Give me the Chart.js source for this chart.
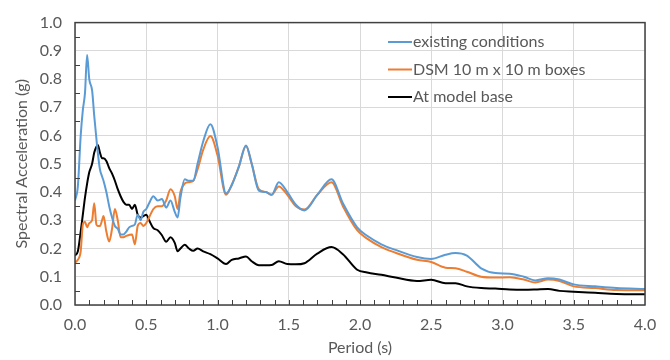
<!DOCTYPE html>
<html>
<head>
<meta charset="utf-8">
<script src="https://cdn.jsdelivr.net/npm/chart.js@4.4.1/dist/chart.umd.min.js"></script>
<style>
  html, body { margin: 0; padding: 0; background: #ffffff; }
  #wrap { width: 670px; height: 360px; position: relative; }
</style>
</head>
<body>
<div id="wrap"><canvas id="c" width="670" height="360"></canvas></div>
<script>
// ---- Data ----
const periods = [0, 0.02, 0.04, 0.055, 0.07, 0.085, 0.1, 0.12, 0.135, 0.15, 0.16, 0.175, 0.19, 0.2, 0.22, 0.24, 0.26, 0.28, 0.3, 0.32, 0.34, 0.36, 0.38, 0.4, 0.42, 0.44, 0.46, 0.48, 0.5, 0.52, 0.55, 0.58, 0.61, 0.64, 0.67, 0.7, 0.72, 0.74, 0.77, 0.8, 0.83, 0.86, 0.9, 0.95, 1.0, 1.06, 1.1, 1.15, 1.2, 1.24, 1.29, 1.34, 1.38, 1.43, 1.49, 1.55, 1.61, 1.7, 1.8, 1.88, 1.98, 2.05, 2.15, 2.25, 2.4, 2.5, 2.6, 2.67, 2.75, 2.85, 2.95, 3.05, 3.15, 3.23, 3.32, 3.4, 3.5, 3.65, 3.8, 4.0];

const existingConditions = [0.37, 0.42, 0.60, 0.69, 0.75, 0.885, 0.80, 0.76, 0.67, 0.59, 0.54, 0.48, 0.455, 0.44, 0.40, 0.35, 0.31, 0.28, 0.27, 0.25, 0.25, 0.26, 0.275, 0.28, 0.285, 0.32, 0.30, 0.33, 0.34, 0.36, 0.385, 0.37, 0.375, 0.345, 0.37, 0.33, 0.31, 0.38, 0.445, 0.44, 0.44, 0.50, 0.58, 0.64, 0.56, 0.395, 0.425, 0.49, 0.565, 0.50, 0.405, 0.40, 0.39, 0.435, 0.40, 0.355, 0.335, 0.39, 0.445, 0.36, 0.275, 0.245, 0.215, 0.195, 0.17, 0.163, 0.178, 0.184, 0.175, 0.13, 0.113, 0.111, 0.10, 0.087, 0.095, 0.09, 0.073, 0.066, 0.06, 0.057];

const dsmBoxes = [0.15, 0.16, 0.19, 0.285, 0.295, 0.275, 0.29, 0.30, 0.36, 0.285, 0.28, 0.28, 0.30, 0.315, 0.26, 0.225, 0.27, 0.34, 0.30, 0.24, 0.24, 0.245, 0.248, 0.25, 0.215, 0.28, 0.29, 0.28, 0.29, 0.31, 0.34, 0.35, 0.35, 0.37, 0.41, 0.385, 0.34, 0.40, 0.43, 0.435, 0.44, 0.48, 0.55, 0.598, 0.53, 0.39, 0.425, 0.49, 0.563, 0.50, 0.41, 0.40, 0.39, 0.42, 0.39, 0.35, 0.338, 0.39, 0.435, 0.35, 0.265, 0.235, 0.205, 0.185, 0.16, 0.152, 0.132, 0.13, 0.118, 0.10, 0.097, 0.098, 0.09, 0.08, 0.09, 0.085, 0.066, 0.06, 0.053, 0.052];

const modelBase = [0.175, 0.19, 0.26, 0.32, 0.38, 0.43, 0.47, 0.50, 0.54, 0.56, 0.567, 0.54, 0.52, 0.52, 0.51, 0.485, 0.465, 0.44, 0.41, 0.385, 0.365, 0.355, 0.355, 0.34, 0.355, 0.32, 0.31, 0.315, 0.32, 0.30, 0.272, 0.265, 0.247, 0.224, 0.24, 0.22, 0.19, 0.20, 0.213, 0.20, 0.192, 0.20, 0.19, 0.18, 0.165, 0.145, 0.16, 0.165, 0.172, 0.155, 0.141, 0.141, 0.142, 0.155, 0.145, 0.144, 0.148, 0.182, 0.205, 0.18, 0.125, 0.115, 0.107, 0.097, 0.085, 0.089, 0.077, 0.077, 0.066, 0.06, 0.058, 0.055, 0.054, 0.055, 0.057, 0.05, 0.047, 0.043, 0.039, 0.038];

const seriesNames = ["existing conditions", "DSM 10 m x 10 m boxes", "At model base"];
const xTitle = "Period (s)";
const yTitle = "Spectral Acceleration (g)";

// ---- Styles ----
const FONT = "Lato, 'Liberation Sans', sans-serif";
const TEXT = "#595959";
const colors = ["#5B9BD5", "#ED7D31", "#000000"];

function toPoints(vals) { return periods.map((p, i) => ({ x: p, y: vals[i] })); }

const frameAndTicks = {
  id: 'frameAndTicks',
  afterDatasetsDraw(chart) {
    const { ctx, chartArea: a, scales } = chart;
    ctx.save();
    ctx.strokeStyle = "#404040";
    ctx.lineWidth = 1.5;
    ctx.strokeRect(a.left, a.top, a.right - a.left, a.bottom - a.top);
    ctx.lineWidth = 1;
    ctx.beginPath();
    for (let i = 1; i < 40; i++) {
      const px = Math.round(scales.x.getPixelForValue(i / 10)) + 0.5;
      ctx.moveTo(px, a.bottom);
      ctx.lineTo(px, a.bottom - 5);
    }
    for (let j = 0; j < 10; j++) {
      const py = Math.round(scales.y.getPixelForValue(j / 10 + 0.05)) + 0.5;
      ctx.moveTo(a.left, py);
      ctx.lineTo(a.left + 5, py);
    }
    ctx.stroke();
    ctx.restore();
  }
};

const innerLegend = {
  id: 'innerLegend',
  afterDraw(chart) {
    const { ctx } = chart;
    const x0 = 388, y0 = 42, dy = 27.5, len = 24;
    ctx.save();
    ctx.font = "16px " + FONT;
    ctx.textBaseline = "middle";
    ctx.textAlign = "left";
    chart.data.datasets.forEach((ds, i) => {
      const y = y0 + i * dy;
      ctx.strokeStyle = ds.borderColor;
      ctx.lineWidth = 2;
      ctx.beginPath();
      ctx.moveTo(x0, y);
      ctx.lineTo(x0 + len, y);
      ctx.stroke();
      ctx.fillStyle = TEXT;
      ctx.fillText(ds.label, x0 + len + 1, y);
    });
    ctx.restore();
  }
};

new Chart(document.getElementById('c'), {
  type: 'line',
  data: {
    datasets: [
      { label: seriesNames[0], data: toPoints(existingConditions), borderColor: colors[0] },
      { label: seriesNames[1], data: toPoints(dsmBoxes), borderColor: colors[1] },
      { label: seriesNames[2], data: toPoints(modelBase), borderColor: colors[2] }
    ].map(d => Object.assign(d, { borderWidth: 2, pointRadius: 0, fill: false, cubicInterpolationMode: 'monotone' }))
  },
  options: {
    responsive: false,
    animation: false,
    layout: { padding: { left: 0, right: 25, top: 15, bottom: 0 } },
    plugins: { legend: { display: false }, tooltip: { enabled: false } },
    scales: {
      x: {
        type: 'linear', min: 0, max: 4,
        ticks: { stepSize: 0.5, color: TEXT, font: { family: FONT, size: 16 }, padding: 10, callback: v => v.toFixed(1), maxRotation: 0 },
        grid: { color: "#d9d9d9", drawTicks: false },
        border: { display: false },
        title: { display: true, text: xTitle, color: TEXT, font: { family: FONT, size: 16 }, padding: { top: 0, bottom: 3 } },
        afterFit(s) { s.height = 55; }
      },
      y: {
        min: 0, max: 1,
        ticks: { stepSize: 0.1, color: TEXT, font: { family: FONT, size: 16 }, padding: 13, callback: v => v.toFixed(1) },
        grid: { color: "#d9d9d9", drawTicks: false },
        border: { display: false },
        title: { display: true, text: yTitle, color: TEXT, font: { family: FONT, size: 16 }, padding: { top: 12, bottom: 0 } },
        afterFit(s) { s.width = 75; }
      }
    }
  },
  plugins: [frameAndTicks, innerLegend]
});
</script>
</body>
</html>
